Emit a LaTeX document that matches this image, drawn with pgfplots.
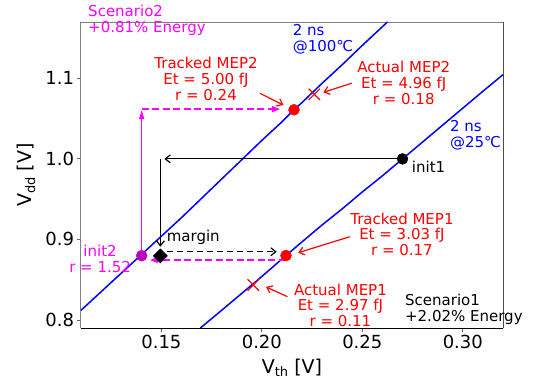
\documentclass[border=0pt]{standalone}
\usepackage{pgfplots}
\pgfplotsset{compat=1.18}
\usepackage{fontspec}
\setmainfont{DejaVu Sans}
\usetikzlibrary{arrows.meta}
\definecolor{mag}{RGB}{255,0,255}
\definecolor{mpurple}{RGB}{191,0,191}
\definecolor{mred}{RGB}{255,0,0}
\definecolor{mblue}{RGB}{0,0,255}
\newcommand{\ann}{\fontsize{15bp}{15.8bp}\selectfont}
\newcommand{\lab}{\fontsize{19bp}{19bp}\selectfont}
\tikzset{
  barb/.style={-{Straight Barb[length=5bp,width=8bp]}, line width=1.2bp},
  tri/.style={-{Triangle[length=9bp,width=5bp]}},
}
\begin{document}
\begin{tikzpicture}
\begin{axis}[
  name=ax, scale only axis, width=422bp, height=306bp,
  xmin=0.11, xmax=0.32, ymin=0.79, ymax=1.17,
  clip=false,
  axis line style={draw=none},
  xtick={0.15,0.20,0.25,0.30}, ytick={0.8,0.9,1.0,1.1},
  tick pos=left,
  tick align=outside, major tick length=3.5bp,
  tick style={black!60, line width=0.8bp},
  /pgf/number format/assume math mode=true,
  xticklabel style={/pgf/number format/fixed, /pgf/number format/fixed zerofill, /pgf/number format/precision=2},
  yticklabel style={/pgf/number format/fixed, /pgf/number format/fixed zerofill, /pgf/number format/precision=1},
  tick label style={font=\fontsize{18bp}{18bp}\selectfont},
  xlabel={V\raisebox{-0.35ex}{\fontsize{13bp}{13bp}\selectfont th} [V]},
  ylabel={V\raisebox{-0.35ex}{\fontsize{13bp}{13bp}\selectfont dd} [V]},
  every axis x label/.style={at={(axis description cs:0.5,-0.13)}, anchor=center, font=\lab},
  every axis y label/.style={at={(axis description cs:-0.13,0.5)}, anchor=center, rotate=90, font=\lab},
]
% spines
\draw[black!50, line width=1bp] (rel axis cs:0,0) -- (rel axis cs:0,1) -- (rel axis cs:1,1);
\draw[black!70, line width=1bp] (rel axis cs:1,1) -- (rel axis cs:1,0);
\draw[black, line width=1bp] (rel axis cs:1,0) -- (rel axis cs:0,0);

% red MEP points
\addplot[only marks, mark=*, mark size=5.5bp, color=mred] coordinates {(0.216,1.061) (0.212,0.880)};
\addplot[only marks, mark=x, mark size=8bp, color=mred, mark options={line width=1.2bp}] coordinates {(0.2261,1.0802) (0.1957,0.8434)};

% blue iso-delay lines
\addplot[mblue, line width=1.5bp] coordinates {
 (0.110,0.812) (0.120,0.835) (0.130,0.858) (0.140,0.881) (0.150,0.904)
 (0.160,0.927) (0.170,0.951) (0.180,0.975) (0.190,0.999) (0.200,1.023)
 (0.210,1.046) (0.216,1.061) (0.220,1.070) (0.230,1.094) (0.240,1.117)
 (0.250,1.141) (0.2625,1.170)};
\addplot[mblue, line width=1.5bp] coordinates {
 (0.1694,0.790) (0.180,0.812) (0.190,0.833) (0.200,0.854) (0.212,0.880)
 (0.220,0.897) (0.230,0.918) (0.240,0.938) (0.250,0.959) (0.260,0.979)
 (0.270,1.000) (0.280,1.021) (0.290,1.042) (0.300,1.063) (0.310,1.084)
 (0.320,1.1046)};

% init points
\addplot[only marks, mark=*, mark size=5.5bp, color=black] coordinates {(0.27,1.0)};
\addplot[only marks, mark=*, mark size=5.5bp, color=mpurple] coordinates {(0.1402,0.8798)};
\addplot[only marks, mark=square*, mark size=5bp, color=black, mark options={rotate=45}] coordinates {(0.1495,0.8795)};

% black arrows
\addplot[black, barb] coordinates {(0.27,1.0) (0.1515,1.0)};
\addplot[black, barb] coordinates {(0.1495,1.0) (0.1495,0.891)};
\addplot[black, barb, dash pattern=on 6bp off 4bp] coordinates {(0.153,0.8847) (0.2074,0.8847)};

% magenta arrows
\addplot[mag, line width=1.2bp, tri] coordinates {(0.1402,0.880) (0.1402,1.0607)};
\addplot[mag, line width=1.6bp, -{Triangle[length=8bp,width=6bp]}, dash pattern=on 7bp off 3.5bp] coordinates {(0.1402,1.0618) (0.209,1.0618)};
\addplot[mag, line width=1.6bp, -{Triangle[length=8bp,width=6bp]}, dash pattern=on 7bp off 3.5bp] coordinates {(0.212,0.8744) (0.1443,0.8744)};

% red arrows
\addplot[mred, barb] coordinates {(0.1991,1.0814) (0.2107,1.0669)};
\addplot[mred, barb] coordinates {(0.2447,1.0939) (0.2306,1.0827)};
\addplot[mred, barb] coordinates {(0.2438,0.9034) (0.2181,0.8835)};
\addplot[mred, barb] coordinates {(0.2127,0.8289) (0.2021,0.8410)};

% texts
\node[mag, anchor=west, align=left, inner sep=0pt, font=\ann] at (axis cs:0.1135,1.1719) {Scenario2\\+0.81\% Energy};
\node[mblue, anchor=west, align=left, inner sep=0pt, font=\ann] at (axis cs:0.2153,1.1483) {2 ns\\@100℃};
\node[mred, align=center, inner sep=0pt, font=\ann] at (axis cs:0.1722,1.0992) {Tracked MEP2\\Et = 5.00 fJ\\r = 0.24};
\node[mred, align=center, inner sep=0pt, font=\ann] at (axis cs:0.2706,1.0942) {Actual MEP2\\Et = 4.96 fJ\\r = 0.18};
\node[mblue, anchor=west, align=left, inner sep=0pt, font=\ann] at (axis cs:0.2936,1.0297) {2 ns\\@25℃};
\node[black, anchor=west, inner sep=0pt, font=\ann] at (axis cs:0.2746,0.9903) {init1};
\node[black, anchor=west, inner sep=0pt, font=\ann] at (axis cs:0.1526,0.9021) {margin};
\node[mag, align=center, inner sep=0pt, font=\ann] at (axis cs:0.1195,0.8754) {init2\\r = 1.52};
\node[mred, align=center, inner sep=0pt, font=\ann] at (axis cs:0.2697,0.9064) {Tracked MEP1\\Et = 3.03 fJ\\r = 0.17};
\node[mred, align=center, inner sep=0pt, font=\ann] at (axis cs:0.2391,0.8182) {Actual MEP1\\Et = 2.97 fJ\\r = 0.11};
\node[black, anchor=west, align=left, inner sep=0pt, font=\ann] at (axis cs:0.2712,0.8133) {Scenario1\\+2.02\% Energy};
\end{axis}
\pgfresetboundingbox
\path[use as bounding box] ([shift={(-81bp,-53bp)}]ax.south west) rectangle ([shift={(38bp,22bp)}]ax.north east);
\end{tikzpicture}
\end{document}
